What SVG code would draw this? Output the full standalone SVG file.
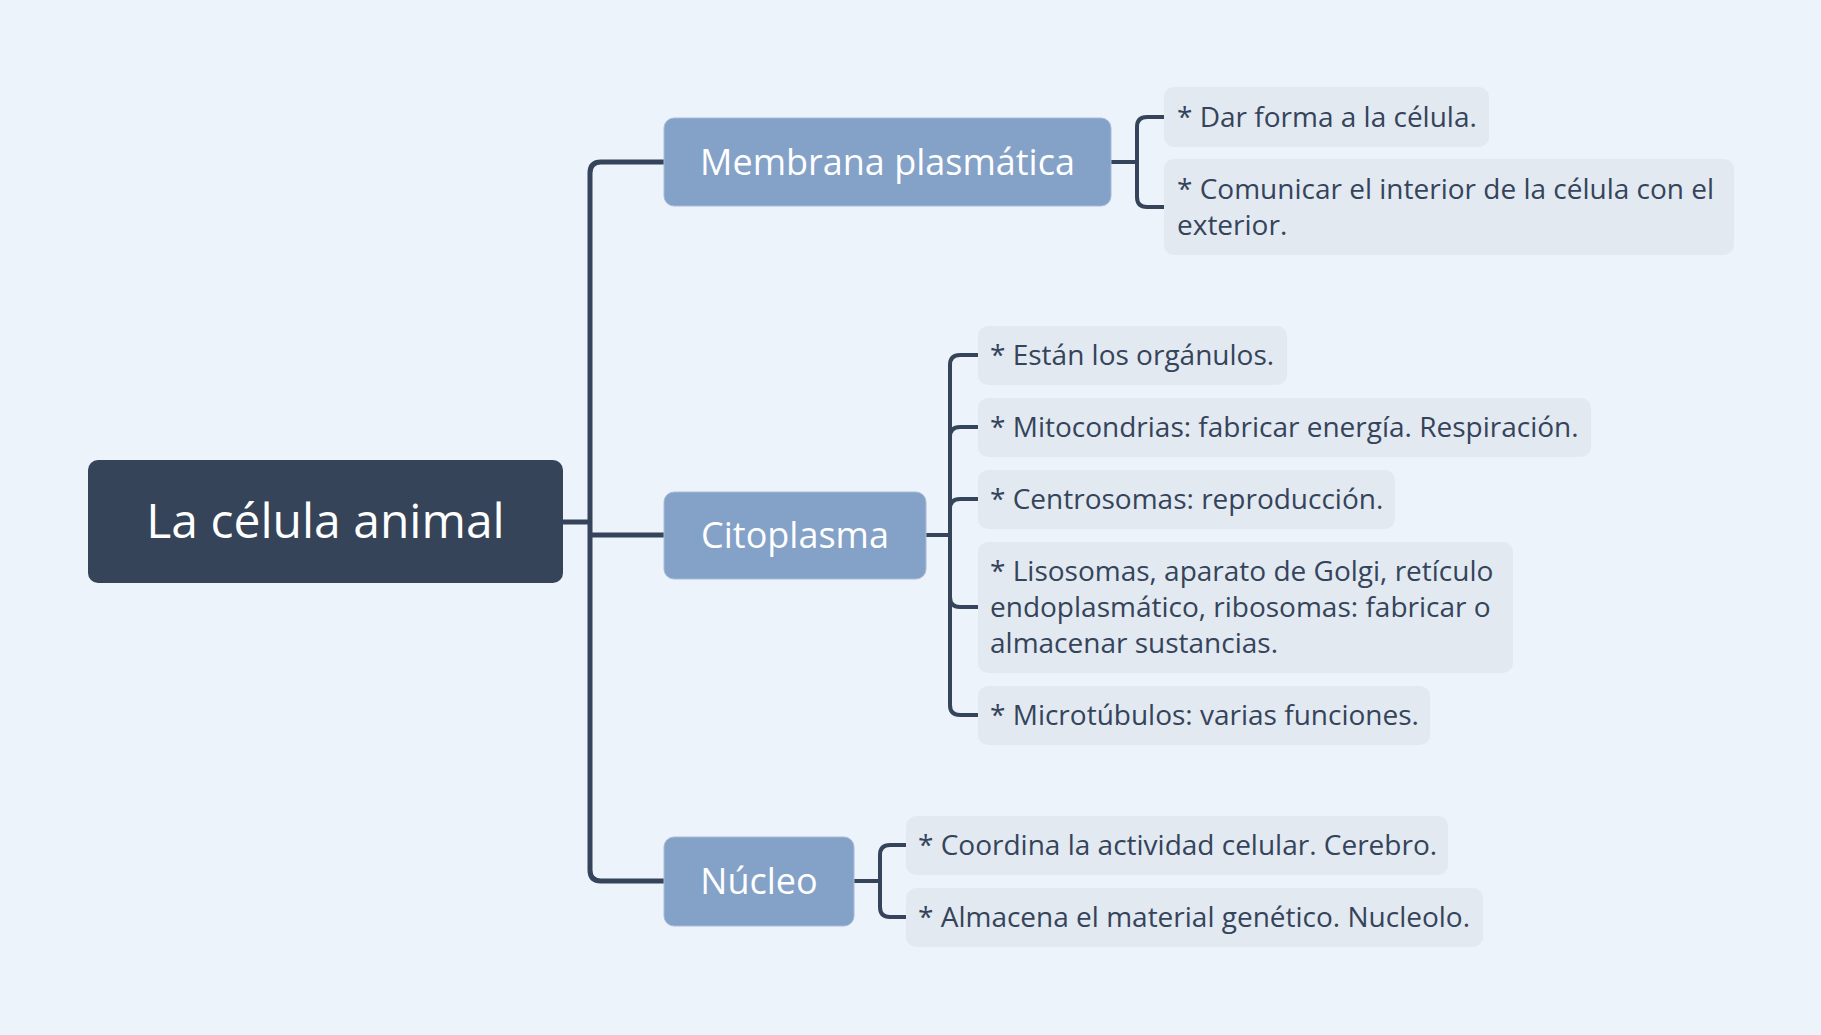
<svg xmlns="http://www.w3.org/2000/svg" width="1821" height="1035" viewBox="0 0 1821 1035">
<style>
.root{fill:#354459}
.main{fill:#84a1c8;stroke:#a6bcda;stroke-width:1}
.sub{fill:#e2e9f1}
.rt{font-family:"Open Sans","Noto Sans",sans-serif;font-size:48px;fill:#ffffff;text-anchor:middle}
.mt{font-family:"Open Sans","Noto Sans",sans-serif;font-size:36px;fill:#ffffff;text-anchor:middle}
.st{font-family:"Open Sans","Noto Sans",sans-serif;font-size:28px;fill:#35445a}
.c1{fill:none;stroke:#35445a;stroke-width:5;stroke-linecap:butt}
.c2{fill:none;stroke:#35445a;stroke-width:4;stroke-linecap:butt}
</style>
<rect width="1821" height="1035" fill="#ecf3fa"/>
<g id="connectors">
<path class="c1" d="M563,522 H590"/>
<path class="c1" d="M664,162 H601 Q590,162 590,173 V870 Q590,881 601,881 H664"/>
<path class="c1" d="M590,535 H664"/>
<path class="c2" d="M1111,162 H1137"/>
<path class="c2" d="M1164,117 H1147 Q1137,117 1137,127 V197 Q1137,207 1147,207 H1164"/>
<path class="c2" d="M926,535 H950"/>
<path class="c2" d="M978,355 H960 Q950,355 950,365 V705 Q950,715 960,715 H978"/>
<path class="c2" d="M950,437 Q950,427 960,427 H978"/>
<path class="c2" d="M950,509 Q950,499 960,499 H978"/>
<path class="c2" d="M950,597 Q950,607 960,607 H978"/>
<path class="c2" d="M854,881 H880"/>
<path class="c2" d="M906,845 H890 Q880,845 880,855 V907 Q880,917 890,917 H906"/>
</g>
<g id="root">
<rect class="root" x="88" y="460" width="475" height="123" rx="10"/>
<text class="rt" x="325.5" y="538">La célula animal</text>
</g>
<g id="membrana">
<rect class="main" x="664" y="118" width="447" height="88" rx="10"/>
<text class="mt" x="887.5" y="175">Membrana plasmática</text>
</g>
<g id="citoplasma">
<rect class="main" x="664" y="492" width="262" height="87" rx="10"/>
<text class="mt" x="795" y="548">Citoplasma</text>
</g>
<g id="nucleo">
<rect class="main" x="664" y="837" width="190" height="89" rx="10"/>
<text class="mt" x="759" y="894">Núcleo</text>
</g>
<g id="m1">
<rect class="sub" x="1164" y="87" width="325" height="60" rx="10"/>
<text class="st" x="1177" y="127">* Dar forma a la célula.</text>
</g>
<g id="m2">
<rect class="sub" x="1164" y="159" width="570" height="96" rx="10"/>
<text class="st" x="1177" y="199">* Comunicar el interior de la célula con el</text>
<text class="st" x="1177" y="235">exterior.</text>
</g>
<g id="c1">
<rect class="sub" x="978" y="326" width="309" height="59" rx="10"/>
<text class="st" x="990" y="365">* Están los orgánulos.</text>
</g>
<g id="c2">
<rect class="sub" x="978" y="398" width="613" height="59" rx="10"/>
<text class="st" x="990" y="437">* Mitocondrias: fabricar energía. Respiración.</text>
</g>
<g id="c3">
<rect class="sub" x="978" y="470" width="417" height="59" rx="10"/>
<text class="st" x="990" y="509">* Centrosomas: reproducción.</text>
</g>
<g id="c4">
<rect class="sub" x="978" y="542" width="535" height="131" rx="10"/>
<text class="st" x="990" y="581">* Lisosomas, aparato de Golgi, retículo</text>
<text class="st" x="990" y="617">endoplasmático, ribosomas: fabricar o</text>
<text class="st" x="990" y="653">almacenar sustancias.</text>
</g>
<g id="c5">
<rect class="sub" x="978" y="686" width="452" height="59" rx="10"/>
<text class="st" x="990" y="725">* Microtúbulos: varias funciones.</text>
</g>
<g id="n1">
<rect class="sub" x="906" y="816" width="542" height="59" rx="10"/>
<text class="st" x="918" y="855">* Coordina la actividad celular. Cerebro.</text>
</g>
<g id="n2">
<rect class="sub" x="906" y="888" width="577" height="59" rx="10"/>
<text class="st" x="918" y="927">* Almacena el material genético. Nucleolo.</text>
</g>
</svg>
